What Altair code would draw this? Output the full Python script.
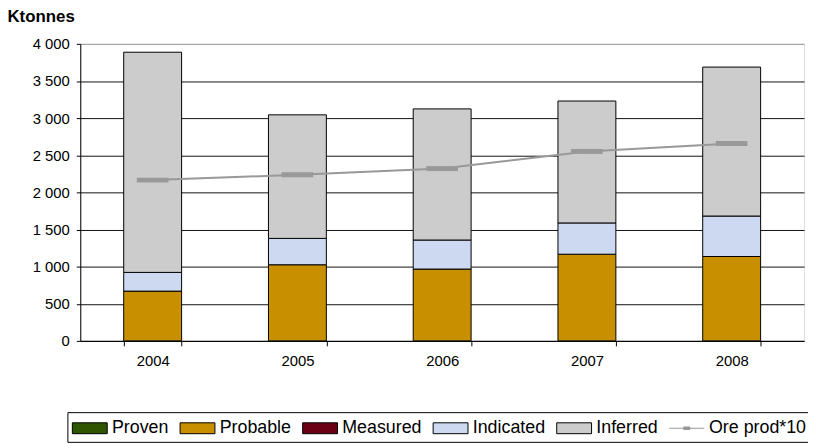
import altair as alt
import pandas as pd

years = ["2004", "2005", "2006", "2007", "2008"]
series = ["Proven", "Probable", "Measured", "Indicated", "Inferred"]
proven = [0, 0, 0, 0, 0]
probable = [670, 1025, 967, 1167, 1136]
measured = [0, 0, 0, 0, 0]
indicated = [252, 355, 391, 421, 545]
inferred = [2965, 1664, 1766, 1642, 2006]
ore_prod = [2165, 2236, 2320, 2551, 2658]
line_name = "Ore prod*10"

colors = ["#2F5500", "#C89000", "#6B0014", "#CCD9F0", "#CCCCCC", "#999999"]

values = {"Proven": proven, "Probable": probable, "Measured": measured,
          "Indicated": indicated, "Inferred": inferred}
rows = []
for si, s in enumerate(series):
    for yi, y in enumerate(years):
        v = values[s][yi]
        if v > 0:
            rows.append({"year": y, "series": s, "value": v, "ord": si})
bars_df = pd.DataFrame(rows)
line_df = pd.DataFrame({"year": years, "value": ore_prod})
legend_df = pd.DataFrame({"series": series + [line_name], "year": years + ["2008"], "value": [0] * 6})

FONT = "Liberation Sans"
bar_path = "M-1,-0.5H2.2V0.5H-1Z"
line_path = "M-1,0H2.2M0.32,-0.12H0.88V0.12H0.32Z"
all_names = series + [line_name]

x_enc = alt.X("year:N", sort=years,
              scale=alt.Scale(paddingInner=0.6, paddingOuter=0.3),
              axis=alt.Axis(title=None, labelAngle=0, tickBand="extent", tickSize=5,
                            labelPadding=8, grid=False, domainColor="#000",
                            tickColor="#000", labelColor="#000", labelFont=FONT,
                            labelFontSize=15))

y_axis = alt.Axis(title=None, values=list(range(0, 4001, 500)),
                  labelExpr="replace(format(datum.value, ','), ',', ' ')",
                  grid=True, labelOverlap=False,
                  gridColor=alt.condition("datum.value == 4000", alt.value("#999999"), alt.value("#111111")),
                  gridWidth=1, tickSize=4, labelPadding=7, domainColor="#000",
                  tickColor="#000", labelColor="#000", labelFont=FONT, labelFontSize=15)

y_enc = alt.Y("value:Q", stack="zero", scale=alt.Scale(domain=[0, 4000], nice=False), axis=y_axis)

legend = alt.Legend(
    title=None, orient="none", legendX=-13, legendY=372, direction="horizontal",
    strokeColor="#000", fillColor="#ffffff", padding=4.5, cornerRadius=0,
    labelFont=FONT, labelFontSize=18, labelColor="#000", labelOffset=17.5,
    columnPadding=8.8, symbolSize=484, symbolStrokeWidth=1, symbolOpacity=1,
)

fill_scale = alt.Scale(domain=all_names, range=colors)

bars = alt.Chart(bars_df).mark_bar(stroke="#000", strokeWidth=1).encode(
    x=x_enc,
    y=y_enc,
    fill=alt.Fill("series:N", scale=fill_scale, legend=legend),
    order=alt.Order("ord:Q", sort="ascending"),
)

legend_layer = alt.Chart(legend_df).transform_filter("false").mark_point(
    filled=True, opacity=1, size=484
).encode(
    x=x_enc,
    y=y_enc,
    fill=alt.Fill("series:N", scale=fill_scale, legend=legend),
    shape=alt.Shape("series:N", scale=alt.Scale(domain=all_names, range=[bar_path] * 5 + [line_path]), legend=legend),
    stroke=alt.Stroke("series:N", scale=alt.Scale(domain=all_names, range=["#000000"] * 5 + ["#999999"]), legend=legend),
)

line = alt.Chart(line_df).mark_line(color="#999999", strokeWidth=2).encode(
    x=x_enc,
    y=y_enc,
)

ticks = alt.Chart(line_df).mark_tick(color="#999999", size=32, thickness=5, opacity=1).encode(
    x=x_enc,
    y=y_enc,
)

chart = alt.layer(bars, line, ticks, legend_layer).properties(
    width=731, height=300,
    autosize=alt.AutoSizeParams(type="none"),
    padding={"left": 73, "top": 34, "right": 4, "bottom": 106},
    title=alt.Title("Ktonnes", anchor="start", font=FONT, fontSize=17, fontWeight="bold",
                    color="#000", dx=-25, offset=11),
).configure_view(stroke="#999999", strokeWidth=1).configure(background="#ffffff")

chart.save("out.html", embed_options={"renderer": "svg", "actions": False})
